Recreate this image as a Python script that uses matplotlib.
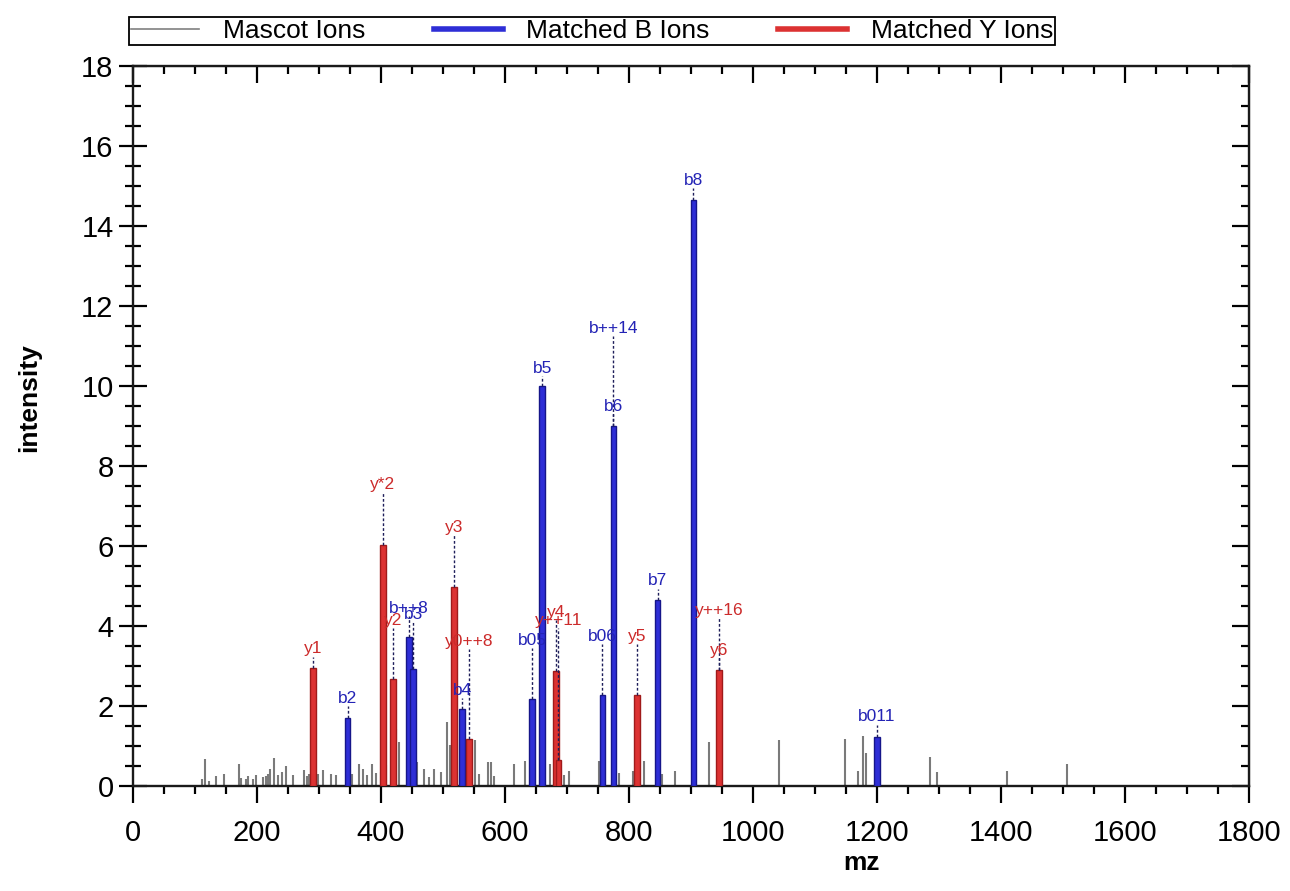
import numpy as np
import matplotlib
matplotlib.use('Agg')
import matplotlib.pyplot as plt
from matplotlib.lines import Line2D
from matplotlib.ticker import MultipleLocator

plt.rcParams['font.family'] = ['Liberation Sans', 'DejaVu Sans']

# Mascot ions (grey sticks)
grey_mz = [111, 116, 123, 134, 146, 171, 175, 182, 186, 193, 199, 209, 214, 218, 221, 227,
           234, 241, 247, 258, 276, 280, 284, 288, 294, 299, 306, 320, 327, 354, 365, 371,
           378, 386, 392, 400, 408, 424, 429, 458, 469, 478, 485, 496, 507, 512, 515, 552,
           558, 572, 577, 582, 614, 633, 647, 672, 695, 703, 752, 784, 806, 824, 854, 875,
           929, 1042, 1149, 1170, 1178, 1183, 1285, 1296, 1409, 1506]
grey_int = [0.17, 0.68, 0.12, 0.25, 0.3, 0.55, 0.2, 0.18, 0.25, 0.18, 0.27, 0.22, 0.25, 0.3, 0.42, 0.7,
            0.27, 0.35, 0.5, 0.27, 0.4, 0.25, 0.3, 0.35, 0.3, 0.3, 0.4, 0.3, 0.27, 0.3, 0.55, 0.42,
            0.27, 0.55, 0.33, 0.35, 0.52, 1.43, 1.1, 0.6, 0.42, 0.23, 0.43, 0.35, 1.6, 1.02, 0.85, 1.15,
            0.3, 0.6, 0.6, 0.25, 0.55, 0.63, 0.83, 0.55, 0.28, 0.38, 0.63, 0.33, 0.38, 0.62, 0.3, 0.38,
            1.1, 1.15, 1.17, 0.38, 1.25, 0.83, 0.72, 0.35, 0.38, 0.55]

# matched b ions
b_mz = [346, 445, 452, 531, 644, 660, 757, 775, 846, 904, 1200]
b_int = [1.7, 3.73, 2.93, 1.92, 2.17, 10.0, 2.28, 9.0, 4.65, 14.65, 1.23]

# matched y ions
y_mz = [290, 403, 419, 518, 542, 682, 686, 813, 945]
y_int = [2.95, 6.03, 2.68, 4.98, 1.17, 2.88, 0.65, 2.28, 2.9]

# annotations: text, ion type, mz, label height
ann_text = ['y1', 'b2', 'y*2', 'y2', 'b++8', 'b3', 'y3', 'b4', 'y0++8', 'b05', 'b5', 'y4',
            'y++11', 'b06', 'b6', 'b++14', 'y5', 'b7', 'b8', 'y++16', 'y6', 'b011']
ann_ion = ['y', 'b', 'y', 'y', 'b', 'b', 'y', 'b', 'y', 'b', 'b', 'y',
           'y', 'b', 'b', 'b', 'y', 'b', 'b', 'y', 'y', 'b']
ann_mz = [290, 346, 403, 419, 445, 452, 518, 531, 542, 644, 660, 682,
          686, 757, 775, 775, 813, 846, 904, 945, 945, 1200]
ann_level = [3.43, 2.2, 7.55, 4.15, 4.45, 4.3, 6.47, 2.4, 3.62, 3.65, 10.45, 4.35,
             4.15, 3.75, 9.5, 11.45, 3.75, 5.13, 15.15, 4.4, 3.4, 1.73]

b_fill, b_edge, b_txt = '#2e2ed6', '#16168a', '#2323b5'
y_fill, y_edge, y_txt = '#dc3232', '#a01a1a', '#cc2b2b'

fig = plt.figure(figsize=(12.9, 8.91), dpi=100)
ax = fig.add_axes([0.1031, 0.1178, 0.8651, 0.8081])

ax.vlines(grey_mz, 0, grey_int, color='#7a7a7a', lw=1.5, zorder=2)
ax.bar(b_mz, b_int, width=9, color=b_fill, edgecolor=b_edge, lw=1.0, zorder=3)
ax.bar(y_mz, y_int, width=9, color=y_fill, edgecolor=y_edge, lw=1.0, zorder=3)

peak = dict(zip(b_mz + y_mz, b_int + y_int))
for t, ion, m, lev in zip(ann_text, ann_ion, ann_mz, ann_level):
    ax.plot([m, m], [peak[m], lev - 0.2], ls=(0, (2, 1.5)), color='#1e1e5a', lw=1.0, zorder=4)
    ax.text(m, lev, t, ha='center', va='center', fontsize=12.5,
            color=b_txt if ion == 'b' else y_txt, zorder=5)

ax.set_xlim(0, 1800)
ax.set_ylim(0, 18)
ax.xaxis.set_major_locator(MultipleLocator(200))
ax.xaxis.set_minor_locator(MultipleLocator(50))
ax.yaxis.set_major_locator(MultipleLocator(2))
ax.yaxis.set_minor_locator(MultipleLocator(0.5))
ax.tick_params(axis='x', which='major', direction='out', length=12, width=1.6, labelsize=21, pad=12)
ax.tick_params(axis='x', which='minor', direction='out', length=6, width=1.6)
ax.tick_params(axis='y', which='major', direction='inout', length=20, width=1.6, labelsize=21, pad=4)
ax.tick_params(axis='y', which='minor', direction='inout', length=12, width=1.6)
for s in ax.spines.values():
    s.set_linewidth(1.7)
    s.set_color('#1a1a1a')

top = ax.secondary_xaxis('top')
top.xaxis.set_major_locator(MultipleLocator(200))
top.xaxis.set_minor_locator(MultipleLocator(50))
top.tick_params(which='major', direction='in', length=12, width=1.6, labeltop=False)
top.tick_params(which='minor', direction='in', length=6, width=1.6)
right = ax.secondary_yaxis('right')
right.yaxis.set_major_locator(MultipleLocator(2))
right.yaxis.set_minor_locator(MultipleLocator(0.5))
right.tick_params(which='major', direction='in', length=12, width=1.6, labelright=False)
right.tick_params(which='minor', direction='in', length=6, width=1.6)

ax.set_xlabel('mz', fontsize=19, fontweight='bold')
ax.set_ylabel('intensity', fontsize=19, fontweight='bold')
ax.xaxis.set_label_coords(0.653, -0.09)
ax.yaxis.set_label_coords(-0.082, 0.54)

handles = [Line2D([], [], color='#808080', lw=1.2),
           Line2D([], [], color=b_fill, lw=4),
           Line2D([], [], color=y_fill, lw=4)]
leg = ax.legend(handles, ['Mascot Ions', 'Matched B Ions', 'Matched Y Ions'], ncol=3,
                loc='lower left', bbox_to_anchor=(-0.004, 1.029), borderaxespad=0,
                fontsize=19, fancybox=False, edgecolor='black', framealpha=1,
                handlelength=2.6, handletextpad=0.9, columnspacing=2.6, borderpad=0.08)
leg.get_frame().set_linewidth(1.3)

plt.savefig('out.png', dpi=100)
